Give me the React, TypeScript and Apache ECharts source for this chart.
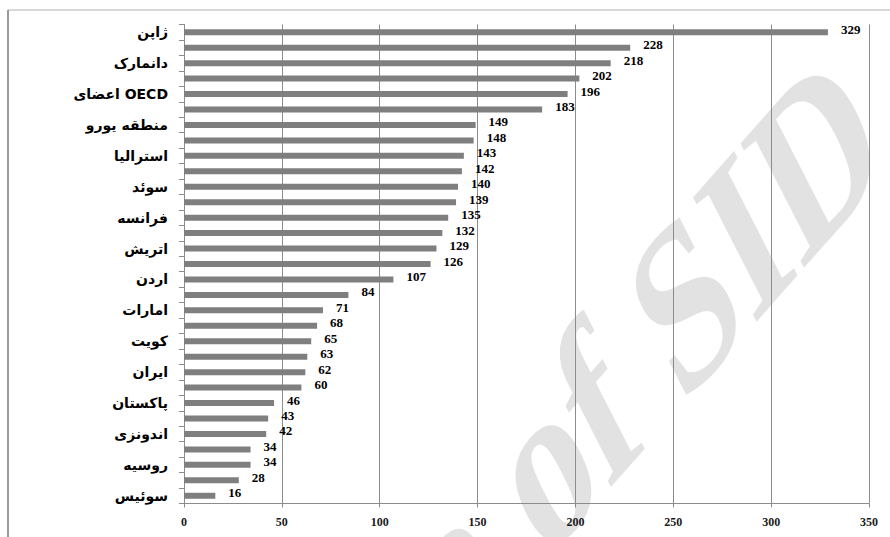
import React, { useEffect, useRef } from "react";
import * as echarts from "echarts";

const categories: string[] = [
  "ژاپن", "", "دانمارک", "", "اعضای OECD", "", "منطقه یورو", "", "استرالیا", "",
  "سوئد", "", "فرانسه", "", "اتریش", "", "اردن", "", "امارات", "",
  "کویت", "", "ایران", "", "پاکستان", "", "اندونزی", "", "روسیه", "", "سوئیس",
];

const values: number[] = [
  329, 228, 218, 202, 196, 183, 149, 148, 143, 142,
  140, 139, 135, 132, 129, 126, 107, 84, 71, 68,
  65, 63, 62, 60, 46, 43, 42, 34, 34, 28, 16,
];

const xMin = 0;
const xMax = 350;
const xStep = 50;
const watermark = "Archive of SID";

export default function App() {
  const ref = useRef<HTMLDivElement>(null);
  useEffect(() => {
    if (!ref.current) return;
    const chart = echarts.init(ref.current, null, { renderer: "svg" });
    chart.setOption({
      animation: false,
      backgroundColor: "#ffffff",
      graphic: [
        {
          type: "group",
          x: 861,
          y: 102,
          scaleY: 1.49,
          z: -10,
          children: [
            {
              type: "text",
              z: -10,
              x: 0,
              y: 0,
              rotation: (37.3 * Math.PI) / 180,
              style: {
                text: watermark,
                font: "bold 160px 'Liberation Serif'",
                fill: "#e2e2e2",
                align: "right",
                verticalAlign: "middle",
              },
            },
          ],
        },
        {
          type: "line",
          shape: { x1: 8, y1: 10, x2: 890, y2: 10 },
          style: { stroke: "#b0b0b0", lineWidth: 1 },
        },
        {
          type: "line",
          shape: { x1: 8, y1: 10, x2: 8, y2: 537 },
          style: { stroke: "#9a9a9a", lineWidth: 2 },
        },
      ],
      grid: { left: 184, right: 21, top: 24.5, bottom: 33.5, containLabel: false },
      xAxis: {
        type: "value",
        min: xMin,
        max: xMax,
        interval: xStep,
        axisLine: { show: true, lineStyle: { color: "#8c8c8c", width: 1 } },
        axisTick: { show: true, length: 4, lineStyle: { color: "#8c8c8c" } },
        splitLine: { show: true, lineStyle: { color: "#8c8c8c", width: 1 } },
        axisLabel: {
          margin: 12,
          color: "#1a1a1a",
          fontFamily: "'Liberation Serif'",
          fontWeight: "bold",
          fontSize: 12,
        },
      },
      yAxis: {
        type: "category",
        inverse: true,
        data: categories,
        axisLine: { show: true, lineStyle: { color: "#8c8c8c", width: 1 } },
        axisTick: { show: true, length: 5, interval: 0, alignWithLabel: false, lineStyle: { color: "#8c8c8c" } },
        axisLabel: {
          interval: 0,
          margin: 16,
          color: "#000",
          fontFamily: "'DejaVu Sans'",
          fontWeight: "bold",
          fontSize: 14,
          padding: [12, 0, 0, 0],
        },
      },
      series: [
        {
          type: "bar",
          data: values,
          barWidth: 6,
          itemStyle: { color: "#7f7f7f" },
          label: {
            show: true,
            position: "right",
            distance: 13,
            offset: [0, -3],
            color: "#000",
            fontFamily: "'Liberation Serif'",
            fontWeight: "bold",
            fontSize: 13,
          },
        },
      ],
    });
    return () => chart.dispose();
  }, []);
  return (
    <div
      ref={ref}
      style={{ position: "fixed", left: 0, top: 0, width: 890, height: 537 }}
    />
  );
}
